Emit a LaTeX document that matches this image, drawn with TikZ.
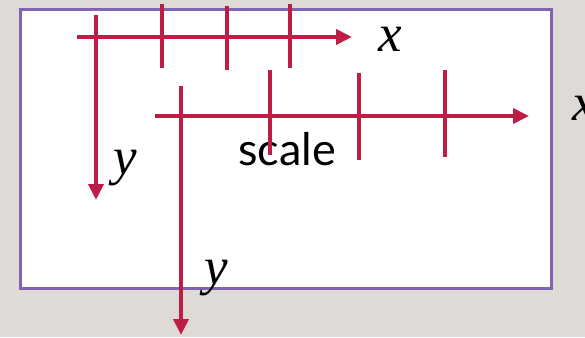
\documentclass[tikz,border=0pt]{standalone}
\usepackage{fontspec}
\setmainfont{Liberation Serif}
\newfontfamily\scalefont{Lato}
\usetikzlibrary{arrows.meta}
\definecolor{axred}{RGB}{190,30,69}
\definecolor{boxpurple}{RGB}{128,100,178}
\definecolor{bggray}{RGB}{222,219,214}
\begin{document}
\begin{tikzpicture}[x=1pt,y=-1pt,
  axis/.style={draw=axred,line width=3.8pt,-{Triangle[length=16pt,width=15pt]}},
  tick/.style={draw=axred,line width=3.8pt},
  varlabel/.style={font=\fontsize{53}{53}\selectfont\itshape,inner sep=0pt,anchor=base},
  txtlabel/.style={font=\scalefont\fontsize{45}{45}\selectfont,inner sep=0pt,anchor=base west}]
\fill[bggray] (0,0) rectangle (585,337);
\useasboundingbox (0,0) rectangle (585,337);
\node[draw=boxpurple,fill=white,line width=3pt,minimum width=531pt,minimum height=279pt,inner sep=0pt,anchor=north west] (frame) at (18.5,8) {};
% labels
\node[txtlabel] (scale) at (238,165) {scale};
\node[varlabel] (x1) at (390,52) {x};
\node[varlabel] (y1) at (125,174) {y};
\node[varlabel] (y2) at (216,284) {y};
\node[varlabel] (x2) at (584,120) {x};
% first axes
\coordinate (a1s) at (77,37); \coordinate (a1e) at (352,37);
\coordinate (b1s) at (96,15); \coordinate (b1e) at (96,200);
\draw[axis] (a1s) -- (a1e);
\draw[axis] (b1s) -- (b1e);
\coordinate (t1a) at (162,4); \coordinate (t1b) at (162,68);
\coordinate (t2a) at (227,6); \coordinate (t2b) at (227,70);
\coordinate (t3a) at (290,4); \coordinate (t3b) at (290,68);
\draw[tick] (t1a) -- (t1b);
\draw[tick] (t2a) -- (t2b);
\draw[tick] (t3a) -- (t3b);
% second axes
\coordinate (a2s) at (155,116); \coordinate (a2e) at (529,116);
\coordinate (b2s) at (181,86); \coordinate (b2e) at (181,335);
\draw[axis] (a2s) -- (a2e);
\draw[axis] (b2s) -- (b2e);
\coordinate (u1a) at (270,70); \coordinate (u1b) at (270,155);
\coordinate (u2a) at (359,73); \coordinate (u2b) at (359,160);
\coordinate (u3a) at (445,70); \coordinate (u3b) at (445,157);
\draw[tick] (u1a) -- (u1b);
\draw[tick] (u2a) -- (u2b);
\draw[tick] (u3a) -- (u3b);
\end{tikzpicture}
\end{document}
